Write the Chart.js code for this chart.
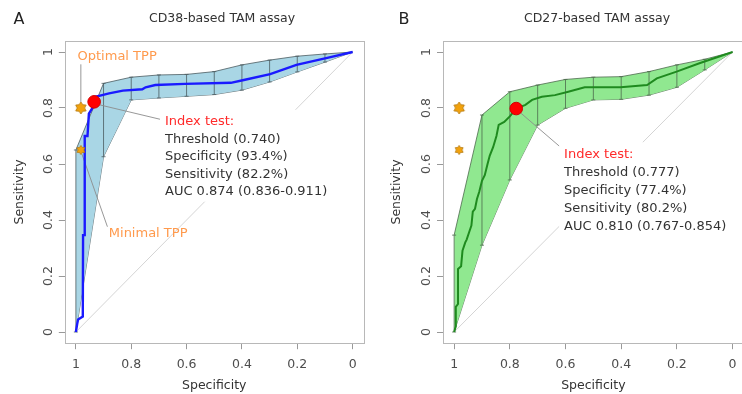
<!DOCTYPE html>
<html>
<head>
<meta charset="utf-8" />
<title>TAM assay ROC</title>
<script src="https://cdn.jsdelivr.net/npm/chart.js@4.4.0/dist/chart.umd.min.js"></script>
<style>
  html, body { margin: 0; padding: 0; background: #fff; overflow: hidden; }
  #wrap { position: relative; width: 742px; height: 394px; overflow: hidden; }
  canvas { position: absolute; top: 0; }
  #chartA { left: 0; }
  #chartB { left: 371px; }
</style>
</head>
<body>
<div id="wrap">
  <canvas id="chartA" width="371" height="394"></canvas>
  <canvas id="chartB" width="380" height="394"></canvas>
</div>
<script>
const tickValues = [0, 0.2, 0.4, 0.6, 0.8, 1];
const tickLabels = ['0', '0.2', '0.4', '0.6', '0.8', '1'];

// CD38 (panel A)
const rocSpecA = [1, 0.995, 0.992, 0.975, 0.974, 0.968, 0.968, 0.958, 0.953, 0.94, 0.934, 0.93, 0.905, 0.88, 0.83, 0.76, 0.748, 0.713, 0.606, 0.44, 0.393, 0.298, 0.203, 0.084, 0];
const rocSensA = [0, 0.03, 0.045, 0.055, 0.346, 0.346, 0.70, 0.70, 0.78, 0.80, 0.822, 0.84, 0.846, 0.852, 0.862, 0.867, 0.874, 0.882, 0.886, 0.89, 0.90, 0.921, 0.954, 0.981, 1];
const ciSpec = [1, 0.9, 0.8, 0.7, 0.6, 0.5, 0.4, 0.3, 0.2, 0.1, 0];
const ciLowA = [0, 0.626, 0.829, 0.836, 0.842, 0.848, 0.864, 0.893, 0.929, 0.964, 1];
const ciHighA = [0.65, 0.888, 0.91, 0.918, 0.92, 0.93, 0.954, 0.971, 0.985, 0.993, 1];
const bestA = { spec: 0.934, sens: 0.822 };
const notesA = ['Threshold (0.740)', 'Specificity (93.4%)', 'Sensitivity (82.2%)', 'AUC 0.874 (0.836-0.911)'];

// CD27 (panel B)
const rocSpecB = [1, 0.994, 0.994, 0.986, 0.986, 0.975, 0.97, 0.96, 0.955, 0.945, 0.938, 0.933, 0.925, 0.918, 0.91, 0.9, 0.89, 0.88, 0.872, 0.86, 0.848, 0.84, 0.82, 0.8, 0.777, 0.744, 0.72, 0.685, 0.638, 0.59, 0.531, 0.472, 0.402, 0.307, 0.272, 0.201, 0.119, 0];
const rocSensB = [0, 0.02, 0.09, 0.10, 0.225, 0.235, 0.29, 0.32, 0.33, 0.36, 0.38, 0.43, 0.44, 0.475, 0.50, 0.54, 0.56, 0.60, 0.63, 0.66, 0.70, 0.74, 0.75, 0.77, 0.798, 0.811, 0.829, 0.84, 0.846, 0.858, 0.874, 0.874, 0.874, 0.882, 0.906, 0.93, 0.96, 1];
const ciLowB = [0, 0.31, 0.543, 0.739, 0.799, 0.829, 0.831, 0.846, 0.874, 0.936, 1];
const ciHighB = [0.346, 0.775, 0.858, 0.882, 0.902, 0.91, 0.912, 0.93, 0.954, 0.974, 1];
const bestB = { spec: 0.777, sens: 0.798 };
const notesB = ['Threshold (0.777)', 'Specificity (77.4%)', 'Sensitivity (80.2%)', 'AUC 0.810 (0.767-0.854)'];

// target product profiles (optimal, minimal)
const tppSpec = [0.982, 0.982];
const tppSens = [0.80, 0.65];

const FONT = '"DejaVu Sans", Verdana, sans-serif';

function pts(xs, ys) { return xs.map((x, i) => ({ x: x, y: ys[i] })); }

function barPts(lo, hi) {
  const out = [];
  ciSpec.forEach((s, i) => {
    if (hi[i] - lo[i] < 0.001) return;
    out.push({ x: s, y: lo[i] }, { x: s, y: hi[i] }, { x: s, y: null });
  });
  return out;
}

function makeStar(r) {
  const c = document.createElement('canvas');
  const s = Math.ceil(r * 2 + 4);
  c.width = s; c.height = s;
  const g = c.getContext('2d');
  g.translate(s / 2, s / 2);
  g.beginPath();
  const n = 6;
  for (let i = 0; i < 2 * n; i++) {
    const rr = i % 2 ? r * 0.62 : r;
    const a = -Math.PI / 2 + i * Math.PI / n;
    g.lineTo(rr * Math.cos(a), rr * Math.sin(a));
  }
  g.closePath();
  g.fillStyle = '#f2a20c';
  g.fill();
  g.strokeStyle = '#b57a10';
  g.lineWidth = 0.8;
  g.stroke();
  return c;
}
const starBig = makeStar(6);
const starSmall = makeStar(4.6);

// draws rotated y tick labels, the frame, titles and text notes
const decor = {
  id: 'decor',
  afterDatasetsDraw(chart, args, o) {
    const ctx = chart.ctx, xs = chart.scales.x, ys = chart.scales.y;
    ctx.save();
    ctx.font = '13px ' + FONT;
    ctx.textBaseline = 'middle';
    ctx.textAlign = 'left';
    // index test box
    const x0 = xs.getPixelForValue(o.noteAt[0]);
    const y0 = ys.getPixelForValue(o.noteAt[1]);
    const w = Math.max(...o.notes.map(t => ctx.measureText(t).width));
    ctx.fillStyle = '#fff';
    ctx.fillRect(x0 - 5, y0 - 12, w + 10, o.step * o.notes.length + 22);
    ctx.fillStyle = '#ff2a2a';
    ctx.fillText('Index test:', x0, y0);
    ctx.fillStyle = '#333';
    o.notes.forEach((t, i) => ctx.fillText(t, x0, y0 + o.step * (i + 1)));
    // TPP labels
    ctx.fillStyle = '#ff9a4d';
    (o.tppText || []).forEach(t => {
      ctx.fillText(t.text, xs.getPixelForValue(t.spec), ys.getPixelForValue(t.sens));
    });
    ctx.restore();
  },
  afterDraw(chart, args, o) {
    const ctx = chart.ctx, a = chart.chartArea, ys = chart.scales.y;
    ctx.save();
    ctx.strokeStyle = '#b8b8b8';
    ctx.lineWidth = 1;
    ctx.strokeRect(Math.round(a.left) + 0.5, Math.round(a.top) + 0.5, Math.round(a.right - a.left), Math.round(a.bottom - a.top));
    ctx.fillStyle = '#4d4d4d';
    ctx.font = '12.5px ' + FONT;
    ctx.textAlign = 'center';
    ctx.textBaseline = 'middle';
    ys.ticks.forEach(t => {
      ctx.save();
      ctx.translate(a.left - 16, ys.getPixelForValue(t.value));
      ctx.rotate(-Math.PI / 2);
      ctx.fillText(t.label, 0, 0);
      ctx.restore();
    });
    ctx.fillStyle = '#333';
    ctx.fillText(o.title, o.titleX, 19);
    ctx.fillStyle = '#222';
    ctx.font = '16px ' + FONT;
    ctx.fillText(o.panel, o.panelX, 20);
    ctx.restore();
  }
};

function buildChart(id, cfg) {
  const fit = (v) => (s) => { if (s.axis === 'x') s.height = v; else s.width = v; };
  const setTicks = (s) => { s.ticks = tickValues.map(v => ({ value: v })); };
  const tickFmt = (v) => tickLabels[tickValues.indexOf(v)];
  return new Chart(document.getElementById(id), {
    type: 'scatter',
    data: {
      datasets: [
        { // chosen threshold
          data: [{ x: cfg.best.spec, y: cfg.best.sens }],
          pointRadius: 6.3, pointBackgroundColor: '#ff0000', pointBorderColor: '#d00000', pointBorderWidth: 1, order: 0
        },
        { // TPP stars
          data: pts(tppSpec, tppSens),
          pointStyle: [starBig, starSmall], order: 1
        },
        { // ROC curve
          data: pts(cfg.rocSpec, cfg.rocSens), showLine: true,
          borderColor: cfg.lineColor, borderWidth: cfg.lineWidth, pointRadius: 0, order: 2
        },
        { // leader lines
          data: cfg.leaders, showLine: true, spanGaps: false,
          borderColor: '#8c8c8c', borderWidth: 0.9, pointRadius: 0, order: 3
        },
        { // CI bars
          data: barPts(cfg.lo, cfg.hi), showLine: true, spanGaps: false,
          borderColor: cfg.edge, borderWidth: 0.8, pointStyle: 'line', pointRadius: 2, pointBorderColor: cfg.edge, pointBorderWidth: 0.8, order: 4
        },
        { // CI band upper
          data: pts(ciSpec, cfg.hi), showLine: true, fill: '+1',
          backgroundColor: cfg.bandColor, borderColor: cfg.edge, borderWidth: 0.8, pointRadius: 0, order: 5
        },
        { // CI band lower
          data: pts(ciSpec, cfg.lo), showLine: true,
          borderColor: cfg.edge, borderWidth: 0.8, pointRadius: 0, order: 6
        },
        { // chance line
          data: [{ x: 1, y: 0 }, { x: 0, y: 1 }], showLine: true,
          borderColor: '#d4d4d4', borderWidth: 1, pointRadius: 0, order: 7
        }
      ]
    },
    options: {
      responsive: false,
      animation: false,
      events: [],
      layout: { padding: { top: 40.8, right: 3, bottom: 0, left: 0 } },
      scales: {
        x: {
          type: 'linear', reverse: true, min: -0.04, max: 1.04,
          afterFit: fit(50.8), afterBuildTicks: setTicks,
          border: { display: false },
          grid: { drawOnChartArea: false, drawTicks: true, tickLength: 6, color: '#999' },
          ticks: { callback: tickFmt, color: '#4d4d4d', font: { family: FONT, size: 12.5 }, padding: 8, maxRotation: 0, autoSkip: false },
          title: { display: true, text: 'Specificity', color: '#333', font: { family: FONT, size: 12.5 }, padding: { top: 0, bottom: 0.5 } }
        },
        y: {
          type: 'linear', min: -0.04, max: 1.04,
          afterFit: fit(cfg.yWidth), afterBuildTicks: setTicks,
          border: { display: false },
          grid: { drawOnChartArea: false, drawTicks: true, tickLength: 6, color: '#999' },
          ticks: { callback: tickFmt, color: 'rgba(0,0,0,0)', font: { family: FONT, size: 12.5 }, autoSkip: false },
          title: { display: true, text: 'Sensitivity', color: '#333', font: { family: FONT, size: 12.5 }, padding: { top: cfg.yTitlePad, bottom: 0 } }
        }
      },
      plugins: {
        legend: { display: false },
        tooltip: { enabled: false },
        decor: cfg.decor
      }
    },
    plugins: [decor]
  });
}

buildChart('chartA', {
  rocSpec: rocSpecA, rocSens: rocSensA, lo: ciLowA, hi: ciHighA, best: bestA,
  lineColor: '#1a1aff', lineWidth: 2.4, bandColor: '#a9d6e5', edge: '#4a5a60',
  yWidth: 64.8, yTitlePad: 12,
  leaders: [
    { x: 0.93, y: 0.815 }, { x: 0.684, y: 0.757 }, { x: 0.7, y: null },
    { x: 0.982, y: 0.82 }, { x: 0.982, y: 0.956 }, { x: 0.9, y: null },
    { x: 0.978, y: 0.635 }, { x: 0.886, y: 0.376 }
  ],
  decor: {
    panel: 'A', panelX: 19, title: 'CD38-based TAM assay', titleX: 222,
    noteAt: [0.678, 0.751], step: 17.5, notes: notesA,
    tppText: [{ text: 'Optimal TPP', spec: 0.994, sens: 0.983 }, { text: 'Minimal TPP', spec: 0.881, sens: 0.352 }]
  }
});

buildChart('chartB', {
  rocSpec: rocSpecB, rocSens: rocSensB, lo: ciLowB, hi: ciHighB, best: bestB,
  lineColor: '#1f8a1f', lineWidth: 2, bandColor: '#90e890', edge: '#4d6a4d',
  yWidth: 72, yTitlePad: 18,
  leaders: [{ x: 0.77, y: 0.79 }, { x: 0.619, y: 0.661 }],
  decor: {
    panel: 'B', panelX: 33, title: 'CD27-based TAM assay', titleX: 226,
    noteAt: [0.605, 0.635], step: 18.2, notes: notesB
  }
});
</script>
</body>
</html>
